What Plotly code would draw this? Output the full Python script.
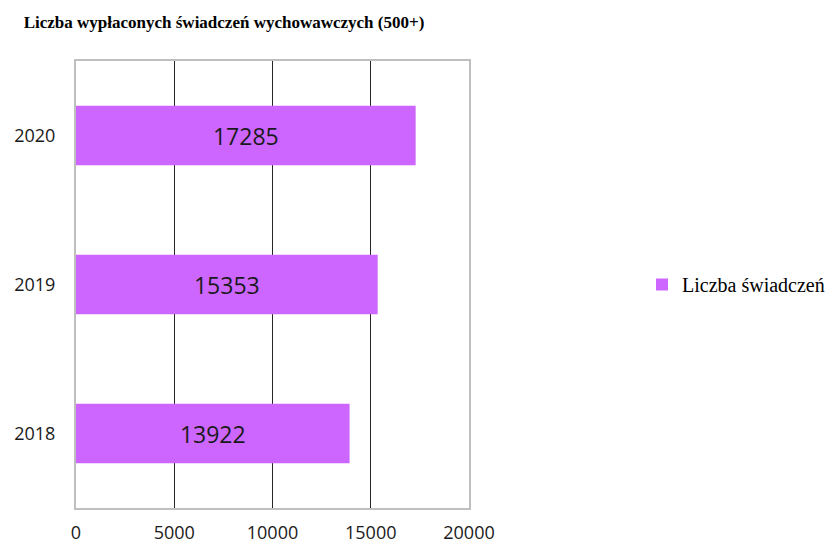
import plotly.graph_objects as go

years = ["2018", "2019", "2020"]
values = [13922, 15353, 17285]
series_name = "Liczba świadczeń"
title_text = "Liczba wypłaconych świadczeń wychowawczych (500+)"
x_ticks = [0, 5000, 10000, 15000, 20000]

# page body has an 8px margin, so the figure is drawn 8px smaller and shifted
W, H = 826, 536

fig = go.Figure()
fig.add_trace(go.Bar(
    y=years, x=values, orientation="h", name=series_name,
    marker=dict(color="#CC66FF", line=dict(width=0)),
    text=[str(v) for v in values], textposition="inside", insidetextanchor="middle",
    textfont=dict(family="Open Sans, Liberation Sans, sans-serif", size=23, color="#1a1a1a"),
    showlegend=True,
))

fig.update_layout(
    width=W, height=H,
    margin=dict(l=68, r=W - 461, t=53, b=H - 500, autoexpand=False),
    paper_bgcolor="white", plot_bgcolor="white",
    bargap=0.6,
    title=dict(text="<b>" + title_text + "</b>", xref="container", x=216/W, xanchor="center",
               yref="container", y=1-14/H, yanchor="middle",
               font=dict(family="Liberation Serif, Times New Roman, serif", size=17, color="black")),
    xaxis=dict(range=[0, 20000], tickvals=x_ticks, ticktext=[str(t) for t in x_ticks],
               showgrid=True, gridcolor="#262626", gridwidth=1,
               showline=True, linecolor="#BFBFBF", linewidth=2, mirror=True,
               zeroline=False, ticks="", ticklabelstandoff=7, automargin=False,
               tickfont=dict(family="Open Sans, Liberation Sans, sans-serif", size=18, color="#1a1a1a")),
    yaxis=dict(categoryorder="array", categoryarray=years,
               showgrid=False, showline=True, linecolor="#BFBFBF", linewidth=2, mirror=True,
               ticks="", ticklabelstandoff=15, automargin=False,
               tickfont=dict(family="Open Sans, Liberation Sans, sans-serif", size=18, color="#1a1a1a")),
    legend=dict(xref="container", x=634/W, xanchor="left", y=0.5, yanchor="middle",
                font=dict(family="Liberation Serif, Times New Roman, serif", size=20, color="black"),
                itemwidth=30, bgcolor="rgba(0,0,0,0)"),
)

fig.write_html("out.html")
